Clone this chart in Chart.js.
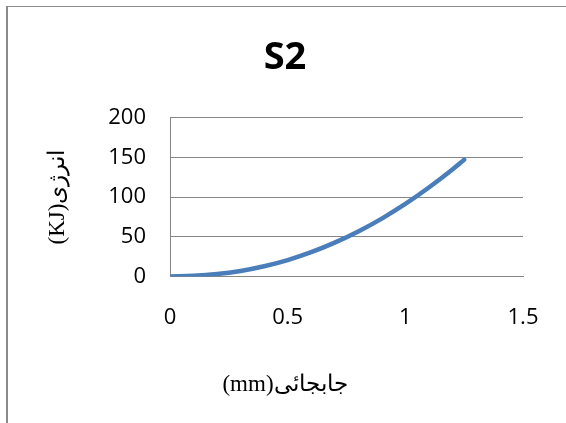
<!DOCTYPE html>
<html>
<head>
<meta charset="utf-8">
<script src="https://cdn.jsdelivr.net/npm/chart.js@4/dist/chart.umd.min.js"></script>
<style>
  body { margin: 0; background: #fff; }
  #wrap { position: relative; width: 566px; height: 423px; }
  #frame { position: absolute; left: 6px; top: 6px; right: 0; bottom: 0;
           border-left: 2px solid #8a8a8a; border-top: 1px solid #8a8a8a; pointer-events: none; }
  canvas { position: absolute; left: 0; top: 0; }
</style>
</head>
<body>
<div id="wrap">
  <canvas id="myChart" width="566" height="423"></canvas>
  <div id="frame"></div>
</div>
<script>
// data
const displacement = [0, 0.1, 0.2, 0.3, 0.4, 0.5, 0.6, 0.7, 0.8, 0.9, 1.0, 1.1, 1.2, 1.25];
const energy = [0, 0.7, 2.9, 6.9, 12.8, 20.6, 30.5, 42.5, 56.6, 72.8, 91.2, 111.9, 134.6, 147];
const xTicks = [0, 0.5, 1, 1.5];
const yTicks = [0, 50, 100, 150, 200];

const chartTitle = 'S2';
const xTitle = '(mm)جابجائی';
const yTitle = '(KJ)انرژی';

function mainEvent(){
    const target = document.querySelector('#myChart');
    const points = displacement.map((x, i) => ({x: x, y: energy[i]}));

    const config = {
      type: 'line',
      data: {
        datasets: [{
          label: 'S2',
          data: points,
          borderColor: '#4a7ebb',
          borderWidth: 4.5,
          borderCapStyle: 'round',
          pointRadius: 0,
          cubicInterpolationMode: 'monotone',
          fill: false
        }]
      },
      options: {
        responsive: false,
        animation: false,
        layout: { padding: { left: 4, right: 0, top: 0, bottom: 0 } },
        plugins: {
          legend: { display: false },
          tooltip: { enabled: false },
          title: {
            display: true,
            text: chartTitle,
            color: '#000',
            font: { family: 'Open Sans', size: 38, weight: 'bold', lineHeight: 1.2 },
            padding: { top: 35, bottom: 37 }
          },
          subtitle: {
            display: true,
            position: 'bottom',
            text: xTitle,
            color: '#000',
            font: { family: 'Liberation Serif', size: 23, lineHeight: 1.2 },
            padding: { top: 0, bottom: 24 }
          }
        },
        scales: {
          x: {
            type: 'linear',
            min: 0,
            max: 1.5,
            afterBuildTicks: (scale) => { scale.ticks = xTicks.map((v) => ({value: v})); },
            afterFit: (scale) => { scale.height = 95; },
            grid: { display: false },
            border: { display: true, color: '#868686', width: 1 },
            ticks: {
              color: '#000',
              padding: 20,
              font: { family: 'Open Sans', size: 22 },
              maxRotation: 0,
              callback: (v) => String(v)
            }
          },
          y: {
            min: 0,
            max: 200,
            afterBuildTicks: (scale) => { scale.ticks = yTicks.map((v) => ({value: v})); },
            afterFit: (scale) => { scale.width = 166; },
            grid: { color: '#868686', lineWidth: 1, drawTicks: false },
            border: { display: true, color: '#868686', width: 1 },
            ticks: {
              color: '#000',
              padding: 24,
              font: { family: 'Open Sans', size: 22 },
              callback: (v) => String(v)
            },
            title: {
              display: true,
              text: yTitle,
              color: '#000',
              font: { family: 'Liberation Serif', size: 23, lineHeight: 1.2 },
              padding: { top: 40, bottom: 0 }
            }
          },
          // empty strip on the right so the plot ends where the original does
          spacer: {
            position: 'right',
            display: true,
            afterFit: (scale) => { scale.width = 43; },
            grid: { display: false },
            border: { display: false },
            ticks: { display: false }
          }
        }
      }
    };
    return new Chart(target, config);
}
document.addEventListener('DOMContentLoaded', () => mainEvent());
</script>
</body>
</html>
